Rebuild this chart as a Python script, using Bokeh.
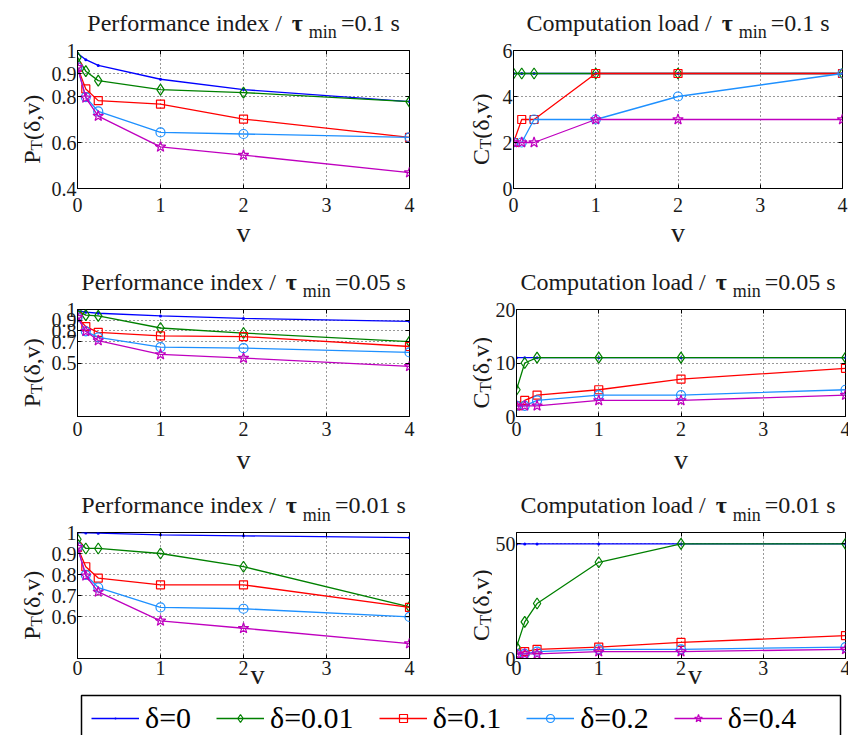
import math
from bokeh.plotting import figure
from bokeh.layouts import column, row
from bokeh.models import (Range1d, Label, Legend, LegendItem, LinearAxis,
                          CustomLabelingPolicy)
from bokeh.core.properties import value
from bokeh.embed import file_html
from bokeh.resources import INLINE

# ---------------- data ----------------
v_vals = [0, 0.1, 0.25, 1, 2, 4]
delta_labels = ["δ=0", "δ=0.01", "δ=0.1", "δ=0.2", "δ=0.4"]

# Performance index, tau_min = 0.1 s
perf_01_d0 = [0.988, 0.960, 0.935, 0.875, 0.830, 0.778]
perf_01_d001 = [0.970, 0.910, 0.869, 0.830, 0.817, 0.778]
perf_01_d01 = [0.927, 0.833, 0.782, 0.767, 0.702, 0.622]
perf_01_d02 = [0.927, 0.797, 0.735, 0.644, 0.637, 0.622]
perf_01_d04 = [0.927, 0.794, 0.715, 0.581, 0.545, 0.469]

# Computation load, tau_min = 0.1 s
comp_01_d0 = [5, 5, 5, 5, 5, 5]
comp_01_d001 = [5, 5, 5, 5, 5, 5]
comp_01_d01 = [2, 3, 3, 5, 5, 5]
comp_01_d02 = [2, 2, 3, 3, 4, 5]
comp_01_d04 = [2, 2, 2, 3, 3, 3]

# Performance index, tau_min = 0.05 s
perf_005_d0 = [0.990, 0.975, 0.965, 0.940, 0.917, 0.889]
perf_005_d001 = [0.990, 0.947, 0.940, 0.827, 0.780, 0.700]
perf_005_d01 = [0.926, 0.840, 0.787, 0.753, 0.747, 0.654]
perf_005_d02 = [0.926, 0.796, 0.740, 0.648, 0.639, 0.599]
perf_005_d04 = [0.926, 0.796, 0.710, 0.580, 0.546, 0.469]

# Computation load, tau_min = 0.05 s
comp_005_d0 = [11, 11, 11, 11, 11, 11]
comp_005_d001 = [5, 10, 11, 11, 11, 11]
comp_005_d01 = [2, 3, 4, 5, 7, 9]
comp_005_d02 = [2, 2, 3, 4, 4, 5]
comp_005_d04 = [2, 2, 2, 3, 3, 4]

# Performance index, tau_min = 0.01 s
perf_001_d0 = [1.000, 0.998, 0.997, 0.989, 0.984, 0.976]
perf_001_d001 = [0.968, 0.924, 0.924, 0.900, 0.837, 0.646]
perf_001_d01 = [0.929, 0.837, 0.783, 0.751, 0.751, 0.643]
perf_001_d02 = [0.929, 0.798, 0.738, 0.643, 0.637, 0.598]
perf_001_d04 = [0.929, 0.794, 0.717, 0.579, 0.544, 0.471]

# Computation load, tau_min = 0.01 s
comp_001_d0 = [50, 50, 50, 50, 50, 50]
comp_001_d001 = [5, 16, 24, 42, 50, 50]
comp_001_d01 = [2, 3, 4, 5, 7, 10]
comp_001_d02 = [2, 2, 3, 4, 4, 5]
comp_001_d04 = [2, 2, 2, 3, 3, 4]

x_ticks = [0, 1, 2, 3, 4]
perf_01_ticks = [0.4, 0.6, 0.8, 0.9, 1]
perf_005_ticks = [0.5, 0.7, 0.8, 0.9, 1]
perf_001_ticks = [0.6, 0.7, 0.8, 0.9, 1]
comp_01_ticks = [0, 2, 4, 6]
comp_005_ticks = [0, 10, 20]
comp_001_ticks = [0, 50]

# ---------------- style ----------------
COLORS = ["#0000ff", "#008000", "#ff0000", "#1e90ff", "#bf00bf"]
MARKERS = ["dot", "diamond", "square", "circle", "star"]
MSIZES = [12, 11, 8, 9, 11]
FONT = "Liberation Serif"
TXT = "#1a1a1a"
TSIZE = 24

WID = {'P': 556, 'e': 444, 'r': 333, 'f': 333, 'o': 500, 'm': 778, 'a': 444, 'n': 500,
       'c': 444, ' ': 250, 'i': 278, 'd': 500, 'x': 500, '/': 278, 'C': 667, 'p': 500,
       'u': 500, 't': 278, 'l': 278, '=': 564, '.': 250, 's': 389, '(': 333, ')': 333,
       ',': 250, 'v': 500, 'δ': 450, 'T': 611}

NO_LABELS = "for (const i of [...indices]) { indices.unset(i) }\nreturn indices"


def tw(s, size):
    return sum(WID.get(ch, 500) for ch in s) / 1000.0 * size


def lab(p, x, y, text, size, **kw):
    p.add_layout(Label(x=x, y=y, x_units="screen", y_units="screen", text=text,
                       text_font=FONT, text_font_size=f"{size}px", text_color=TXT, **kw))


def strip(w, h):
    s = figure(frame_width=w, frame_height=h, min_border_left=0, min_border_right=0,
               min_border_top=0, min_border_bottom=0, toolbar_location=None,
               output_backend="svg", x_range=Range1d(0, 1), y_range=Range1d(0, 1),
               x_axis_type=None, y_axis_type=None)
    s.outline_line_color = None
    s.background_fill_color = "white"
    s.border_fill_color = "white"
    s.grid.visible = False
    return s


def title_strip(w, h, cx, base, sub_drop, prefix, tail):
    s = strip(w, h)
    wp = tw(prefix, TSIZE)
    wmin = tw("min", 18)
    total = wp + 10 + 17 + wmin + 4 + tw(tail, TSIZE)
    A = cx - total / 2 + wp
    lab(s, A, base, prefix, TSIZE, text_align="right", text_baseline="alphabetic")
    lab(s, A + 10, base, "τ", TSIZE, text_align="left", text_baseline="alphabetic",
        text_font_style="bold")
    lab(s, A + 27, base - sub_drop, "min", 18, text_align="left", text_baseline="alphabetic")
    lab(s, A + 27 + wmin + 4, base, tail, TSIZE, text_align="left",
        text_baseline="alphabetic")
    return s


def ylab_strip(w, h, basex, cy, letter):
    s = strip(w, h)
    w1 = tw(letter, 24)
    wT = tw("T", 17)
    wrest = tw("(δ,v)", 24)
    y0 = cy - (w1 + wT + wrest) / 2
    ang = math.pi / 2
    lab(s, basex, y0, letter, 24, angle=ang, text_align="left", text_baseline="alphabetic")
    lab(s, basex + 5, y0 + w1, "T", 17, angle=ang, text_align="left",
        text_baseline="alphabetic")
    lab(s, basex, y0 + w1 + wT, "(δ,v)", 24, angle=ang, text_align="left",
        text_baseline="alphabetic")
    return s


def make_panel(series, y_lo, y_hi, yticks, fw, fh, bl, br, bt, bb,
               tick_standoff, xlab_text, xlab_standoff):
    p = figure(frame_width=fw, frame_height=fh, min_border_left=bl, min_border_right=br,
               min_border_top=bt, min_border_bottom=bb, toolbar_location=None,
               output_backend="svg", x_range=Range1d(0, 4), y_range=Range1d(y_lo, y_hi))
    p.background_fill_color = "white"
    p.border_fill_color = "white"
    p.outline_line_color = "black"
    p.outline_line_width = 1

    p.xaxis.ticker = x_ticks
    p.yaxis.ticker = yticks
    p.yaxis.major_label_overrides = {t: f"{t:g}" for t in yticks}
    for ax in [p.xaxis[0], p.yaxis[0]]:
        ax.major_label_text_font = FONT
        ax.major_label_text_font_size = "20px"
        ax.major_label_text_color = TXT
        ax.major_tick_in = 4
        ax.major_tick_out = 0
        ax.minor_tick_line_color = None
        ax.axis_line_color = "black"
        ax.major_tick_line_color = "black"
    p.xaxis.major_label_standoff = tick_standoff
    p.yaxis.major_label_standoff = 1
    p.xaxis.axis_label = xlab_text
    p.xaxis.axis_label_text_font = FONT
    p.xaxis.axis_label_text_font_size = "28px"
    p.xaxis.axis_label_text_font_style = "normal"
    p.xaxis.axis_label_text_color = TXT
    p.xaxis.axis_label_standoff = xlab_standoff

    # inward ticks on the top and right box edges (no labels)
    for tk, side in [(x_ticks, "above"), (yticks, "right")]:
        ax = LinearAxis(ticker=tk, major_label_text_font_size="0px", major_label_standoff=0,
                        major_label_policy=CustomLabelingPolicy(code=NO_LABELS),
                        major_tick_in=4, major_tick_out=0, minor_tick_line_color=None,
                        axis_line_color=None, major_tick_line_color="black")
        p.add_layout(ax, side)

    p.xgrid.grid_line_color = "#333333"
    p.ygrid.grid_line_color = "#333333"
    p.xgrid.grid_line_dash = "1 3"
    p.ygrid.grid_line_dash = "1 3"

    for i, ys in enumerate(series):
        c = COLORS[i]
        p.line(v_vals, ys, line_color=c, line_width=1.3)
        if MARKERS[i] == "dot":
            p.scatter(v_vals, ys, marker="dot", size=MSIZES[i], line_color=c, fill_color=c)
        else:
            p.scatter(v_vals, ys, marker=MARKERS[i], size=MSIZES[i], line_color=c,
                      fill_color=None, line_width=1.2)
    return p


LW, RW = 332, 329
YL_W, YR_W = 44, 75
LB_L, LB_R, RB_L, RB_R = 33, 8, 21, 6
LEFT_W = YL_W + LB_L + LW + LB_R     # 417
RIGHT_W = YR_W + RB_L + RW + RB_R    # 431
LCX = YL_W + LB_L + LW / 2
RCX = YR_W + RB_L + RW / 2
V_SHIFT = "\u00a0\u00a0\u00a0\u00a0v"

# row 1  (title strip 0-40, plot 40-245, frame 50-188)
t1 = row(title_strip(LEFT_W, 40, LCX, 18, 9.5, "Performance index /", "=0.1 s"),
         title_strip(RIGHT_W, 40, RCX, 18, 9.5, "Computation load /", "=0.1 s"))
p1 = make_panel([perf_01_d0, perf_01_d001, perf_01_d01, perf_01_d02, perf_01_d04],
                0.4, 1.0, perf_01_ticks, LW, 138, LB_L, LB_R, 10, 57, 9, "v", 2)
p2 = make_panel([comp_01_d0, comp_01_d001, comp_01_d01, comp_01_d02, comp_01_d04],
                0, 6, comp_01_ticks, RW, 138, RB_L, RB_R, 10, 57, 9, "v", 2)
r1 = row(ylab_strip(YL_W, 205, 31, 57 + 69, "P"), p1,
         ylab_strip(YR_W, 205, 63, 57 + 69, "C"), p2)

# row 2  (title strip 245-294, plot 294-470, frame 304-411)
t2 = row(title_strip(LEFT_W, 49, LCX, 18, 9.5, "Performance index /", "=0.05 s"),
         title_strip(RIGHT_W, 49, RCX, 18, 9.5, "Computation load /", "=0.05 s"))
p3 = make_panel([perf_005_d0, perf_005_d001, perf_005_d01, perf_005_d02, perf_005_d04],
                0.0, 1.0, perf_005_ticks, LW, 107, LB_L, LB_R, 10, 59, 5, "v", 5)
p4 = make_panel([comp_005_d0, comp_005_d001, comp_005_d01, comp_005_d02, comp_005_d04],
                0, 20, comp_005_ticks, RW, 107, RB_L, RB_R, 10, 59, 5, "v", 5)
r2 = row(ylab_strip(YL_W, 176, 31, 59 + 53.5, "P"), p3,
         ylab_strip(YR_W, 176, 63, 59 + 53.5, "C"), p4)

# row 3  (title strip 470-515, plot 515-683, frame 525-651)
t3 = row(title_strip(LEFT_W, 45, LCX, 18, 10, "Performance index /", "=0.01 s"),
         title_strip(RIGHT_W, 45, RCX, 18, 10, "Computation load /", "=0.01 s"))
p5 = make_panel([perf_001_d0, perf_001_d001, perf_001_d01, perf_001_d02, perf_001_d04],
                0.4, 1.0, perf_001_ticks, LW, 126, LB_L, LB_R, 10, 32, 2, V_SHIFT, -19)
p6 = make_panel([comp_001_d0, comp_001_d001, comp_001_d01, comp_001_d02, comp_001_d04],
                0, 55, comp_001_ticks, RW, 126, RB_L, RB_R, 10, 32, 2, V_SHIFT, -19)
r3 = row(ylab_strip(YL_W, 168, 31, 32 + 63, "P"), p5,
         ylab_strip(YR_W, 168, 63, 32 + 63, "C"), p6)

# ---------------- legend figure (683-735, box 686-732) ----------------
pl = figure(frame_width=759, frame_height=46, min_border_left=81, min_border_right=8,
            min_border_top=3, min_border_bottom=3, toolbar_location=None,
            output_backend="svg", x_range=Range1d(10, 11), y_range=Range1d(10, 11),
            x_axis_type=None, y_axis_type=None)
pl.grid.visible = False
pl.outline_line_color = "black"
pl.outline_line_width = 1.5
pl.background_fill_color = "white"
pl.border_fill_color = "white"
items = []
for i, name in enumerate(delta_labels):
    c = COLORS[i]
    rl = pl.line(v_vals, perf_01_d0, line_color=c, line_width=1.3)
    if MARKERS[i] == "dot":
        rs = pl.scatter(v_vals, perf_01_d0, marker="dot", size=10, line_color=c, fill_color=c)
    else:
        rs = pl.scatter(v_vals, perf_01_d0, marker=MARKERS[i], size=MSIZES[i], line_color=c,
                        fill_color=None, line_width=1.2)
    items.append(LegendItem(label=value(name), renderers=[rl, rs]))
leg = Legend(items=items, orientation="horizontal", location="left", margin=10, padding=0,
             spacing=25, glyph_width=48, glyph_height=20, label_standoff=6,
             label_text_font=FONT, label_text_font_size="30px", label_text_color="#000000",
             border_line_color=None, background_fill_alpha=0)
pl.add_layout(leg)

layout = column(t1, r1, t2, r2, t3, r3, pl)
open("out.html", "w").write(file_html(layout, INLINE))
